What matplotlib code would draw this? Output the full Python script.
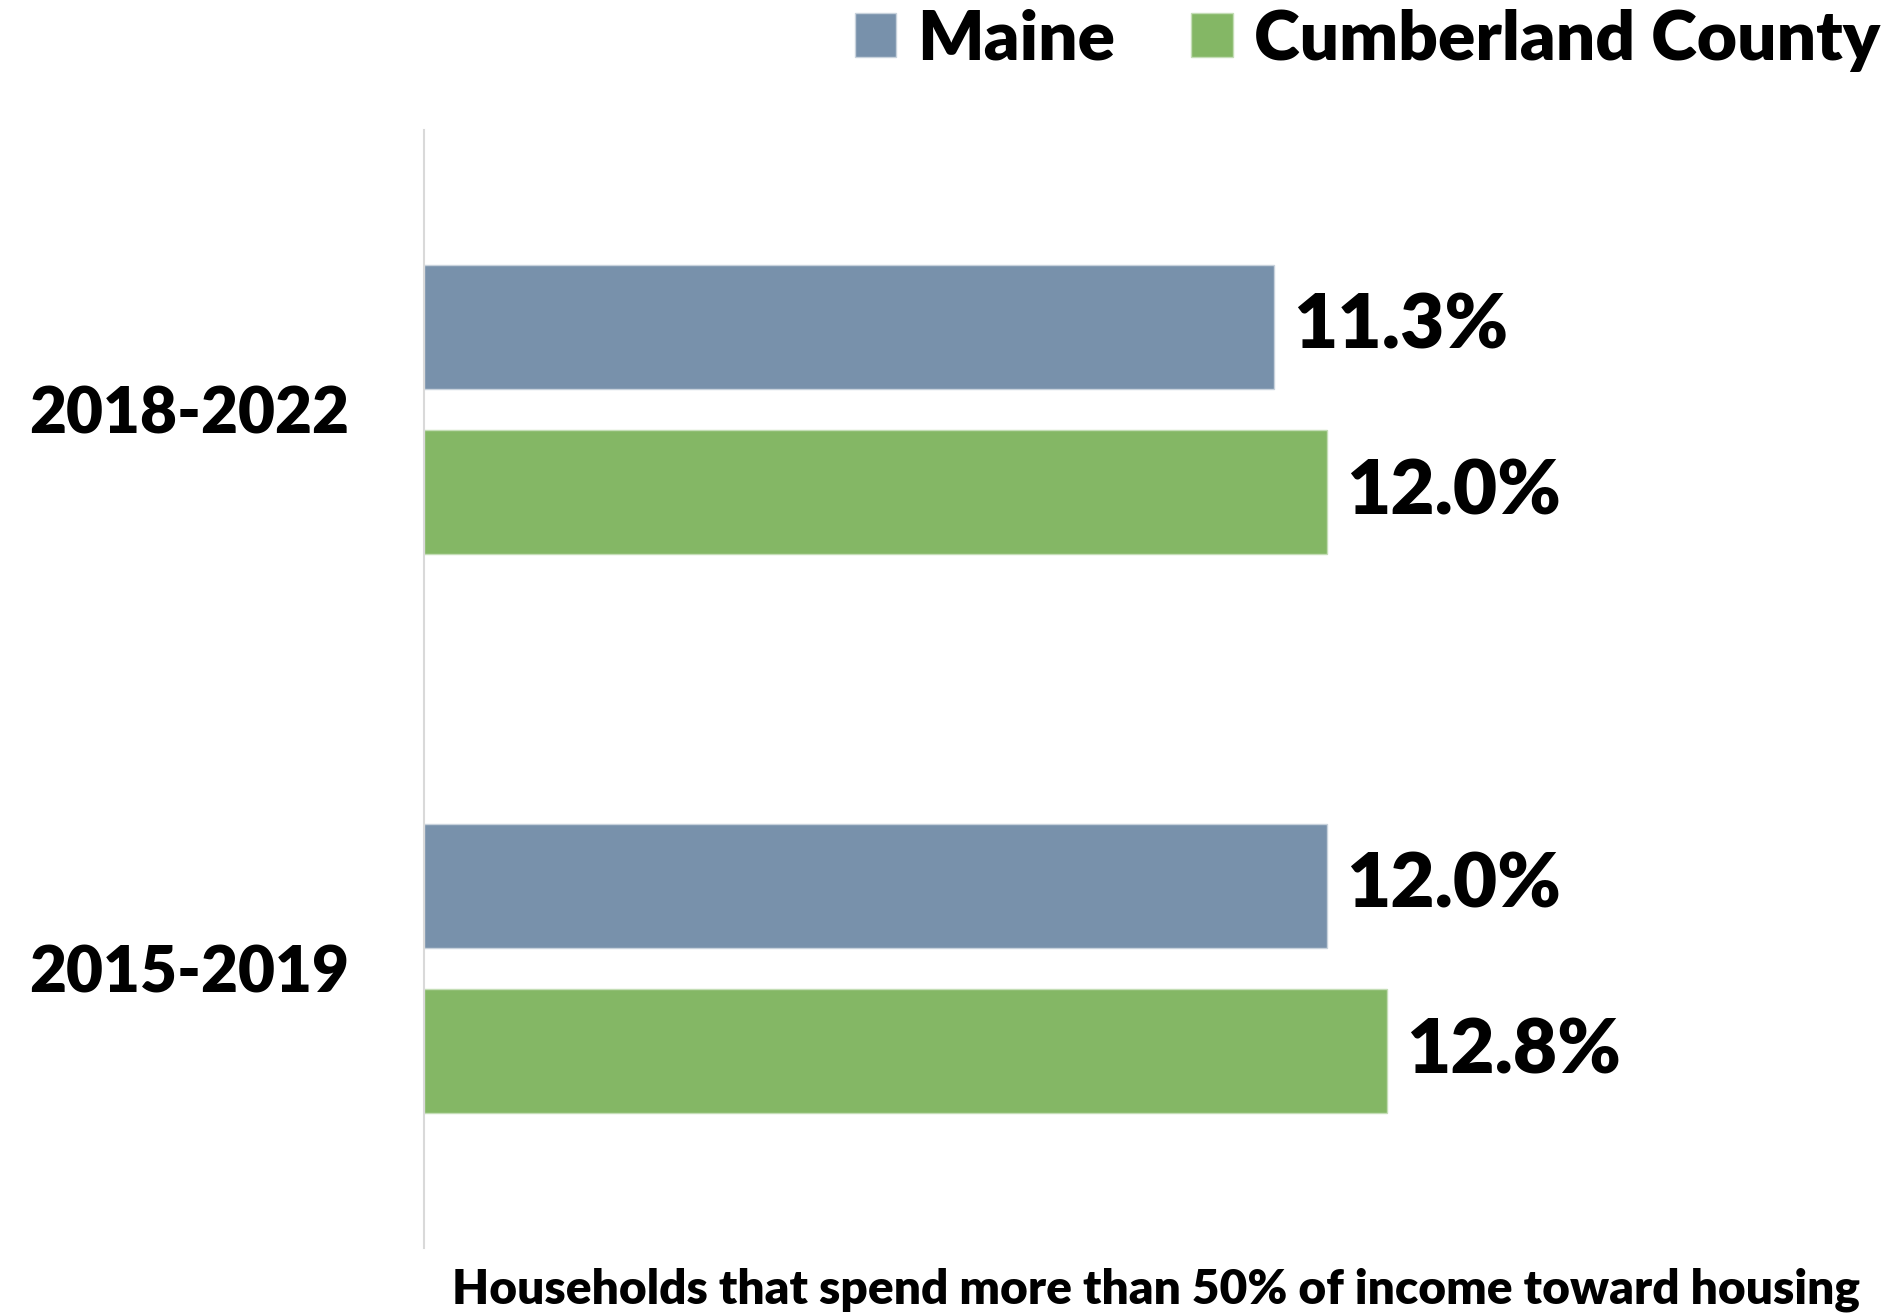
import matplotlib
matplotlib.use('Agg')
import matplotlib.pyplot as plt
import numpy as np

plt.rcParams['font.family'] = ['Lato', 'DejaVu Sans']
plt.rcParams['font.weight'] = 'heavy'

# data
periods = ['2015-2019', '2018-2022']
maine = [12.0, 11.3]
cumberland = [12.8, 12.0]
series_names = ['Maine', 'Cumberland County']
xlabel_text = 'Households that spend more than 50% of income toward housing'

c_maine = '#7891AB'
c_cumb = '#84B765'

fig = plt.figure(figsize=(18.87, 13.15), dpi=100)
ax = fig.add_axes([0.2247, 0.0510, 0.7753, 0.8501])

y = np.arange(len(periods))
h = 0.221
off = 0.148
b1 = ax.barh(y + off, maine, height=h, color=c_maine, edgecolor='#C8D2DC', linewidth=1, label=series_names[0])
b2 = ax.barh(y - off, cumberland, height=h, color=c_cumb, edgecolor='#C4DDB6', linewidth=1, label=series_names[1])

# value labels
for bars, vals in [(b1, maine), (b2, cumberland)]:
    for rect, v in zip(bars, vals):
        ax.text(v + 0.26, rect.get_y() + rect.get_height() / 2, '%.1f%%' % v,
                va='center', ha='left', fontsize=55, fontweight='heavy')

ax.set_xlim(0, 19.45)
ax.set_ylim(-0.5, 1.5)
ax.set_yticks(y)
ax.set_yticklabels(periods, fontsize=46, fontweight='heavy')
ax.tick_params(axis='y', length=0, pad=54)
ax.set_xticks([])
for s in ['top', 'right', 'bottom']:
    ax.spines[s].set_visible(False)
ax.spines['left'].set_color('#D9D9D9')
ax.spines['left'].set_linewidth(1.5)

fig.text(452 / 1887, 1 - 1290 / 1315, xlabel_text, fontsize=34.5, fontweight='heavy',
         ha='left', va='center')

fig.legend(handles=[b1, b2], labels=series_names, loc='center right',
           bbox_to_anchor=(1.0, 1 - 40 / 1315), ncol=2, frameon=False,
           prop={'weight': 'heavy', 'size': 50},
           handlelength=0.6, handleheight=0.6, handletextpad=0.3,
           columnspacing=1.1, borderpad=0, borderaxespad=0.1)

fig.savefig('out.png', dpi=100, facecolor='white')
